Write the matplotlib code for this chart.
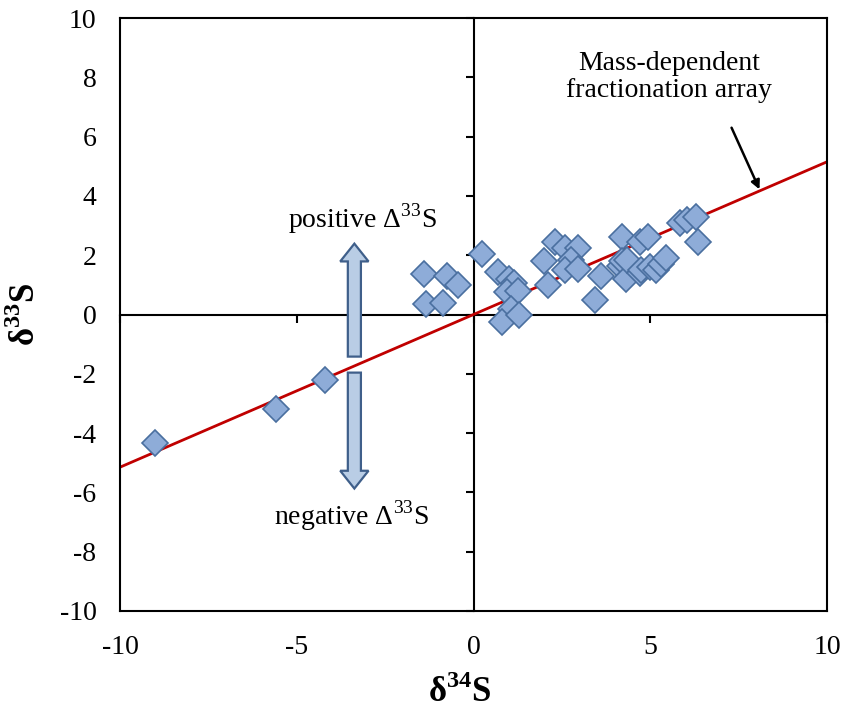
import numpy as np
import matplotlib.pyplot as plt
from matplotlib.patches import FancyArrow

plt.rcParams['font.family'] = ['Liberation Serif', 'DejaVu Serif']
plt.rcParams['mathtext.fontset'] = 'custom'
plt.rcParams['mathtext.rm'] = 'Liberation Serif'
plt.rcParams['mathtext.bf'] = 'Liberation Serif:bold'
plt.rcParams['axes.unicode_minus'] = False

# sample values (delta34S, delta33S)
d34 = [-9.0, -5.6, -4.2, -1.4, -1.35, -0.75, -0.85, -0.45, 0.25, 0.7,
       1.0, 1.15, 0.95, 1.25, 1.05, 0.8, 1.3, 2.0, 2.1, 2.3,
       2.6, 2.95, 2.75, 2.6, 2.95, 3.6, 3.45, 4.2, 4.7, 4.95,
       4.15, 4.2, 4.3, 4.35, 4.7, 4.75, 5.0, 5.15, 5.3, 5.45,
       5.85, 6.05, 6.3, 6.35]
d33 = [-4.35, -3.2, -2.2, 1.35, 0.35, 1.3, 0.4, 1.0, 2.05, 1.45,
       1.2, 1.05, 0.75, 0.8, 0.2, -0.25, 0.0, 1.8, 1.0, 2.45,
       2.25, 2.25, 1.85, 1.5, 1.55, 1.3, 0.5, 2.6, 2.45, 2.6,
       1.65, 1.8, 1.2, 1.85, 1.4, 1.5, 1.6, 1.5, 1.7, 1.9,
       3.1, 3.2, 3.3, 2.45]

# mass-dependent fractionation line
mdf_slope = 0.515
mdf_x = [-10, 10]

fig = plt.figure(figsize=(8.47, 7.15), dpi=100)
pos = [120 / 847, 1 - 611 / 715, 707 / 847, 593 / 715]

# axes through the origin (ticks only)
ax0 = fig.add_axes(pos, zorder=0)
ax0.set_xlim(-10, 10)
ax0.set_ylim(-10, 10)
ax0.spines['left'].set_position(('data', 0))
ax0.spines['bottom'].set_position(('data', 0))
ax0.spines['top'].set_visible(False)
ax0.spines['right'].set_visible(False)
for s in ('left', 'bottom'):
    ax0.spines[s].set_linewidth(1.5)
ax0.set_xticks(np.arange(-10, 11, 5))
ax0.set_yticks(np.arange(-10, 11, 2))
ax0.tick_params(direction='out', length=6, width=1.5,
                labelleft=False, labelbottom=False)

# main axes: frame, labels and data
ax = fig.add_axes(pos, zorder=1)
ax.patch.set_visible(False)
ax.set_xlim(-10, 10)
ax.set_ylim(-10, 10)
for s in ax.spines.values():
    s.set_linewidth(1.5)
ax.set_xticks(np.arange(-10, 11, 5))
ax.set_yticks(np.arange(-10, 11, 2))
ax.tick_params(length=0, labelsize=20, pad=17)

ax.plot(mdf_x, [mdf_slope * v for v in mdf_x], color='#C00000', lw=2, zorder=2)
ax.plot(d34, d33, ls='none', marker='D', ms=13.5, mfc='#8EACD8',
        mec='#4A6F9F', mew=1.2, zorder=3)

ax.set_xlabel(r'δ$^{\mathbf{34}}$S', fontsize=25, fontweight='bold', va='center')
ax.set_ylabel(r'δ$^{\mathbf{33}}$S', fontsize=25, fontweight='bold', va='center')
ax.xaxis.set_label_coords(0.48, -0.138)
ax.yaxis.set_label_coords(-0.133, 0.5)

# block arrows for positive / negative Delta33S
arrow_kw = dict(width=0.37, head_width=0.8, head_length=0.6,
                length_includes_head=True, fc='#B9CDE5', ec='#3F5F8A', lw=1.6, zorder=4)
ax.add_patch(FancyArrow(-3.37, -1.42, 0, 3.81, **arrow_kw))
ax.add_patch(FancyArrow(-3.37, -1.96, 0, -3.91, **arrow_kw))
ax.text(-3.15, 2.93, r'positive Δ$^{33}$S', ha='center', va='baseline', fontsize=20)
ax.text(-3.45, -7.08, r'negative Δ$^{33}$S', ha='center', va='baseline', fontsize=20)

ax.text(5.54, 8.0, 'Mass-dependent\nfractionation array', ha='center', va='center',
        fontsize=20, linespacing=1.1)
ax.annotate('', xy=(8.09, 4.22), xytext=(7.30, 6.30),
            arrowprops=dict(arrowstyle='-|>', color='black', lw=1.8,
                            shrinkA=0, shrinkB=0, mutation_scale=13))

fig.savefig('out.png', dpi=100)
